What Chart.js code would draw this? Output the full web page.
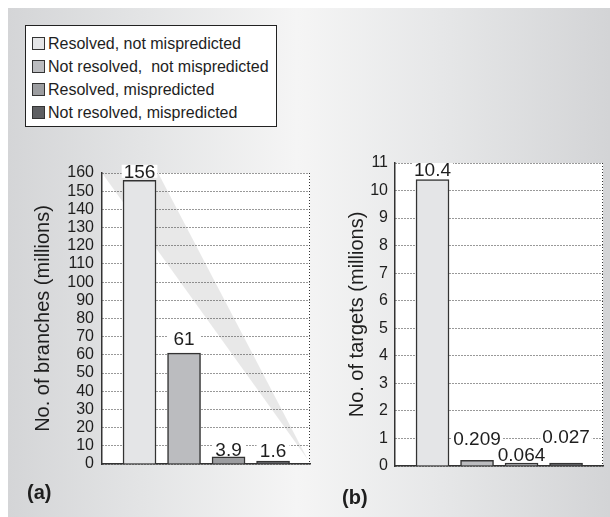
<!DOCTYPE html>
<html>
<head>
<meta charset="utf-8">
<script src="https://cdn.jsdelivr.net/npm/chart.js@4/dist/chart.umd.min.js"></script>
<style>
  html, body { margin: 0; padding: 0; background: #fff; }
  #page { position: relative; width: 610px; height: 517px; overflow: hidden;
          font-family: 'Liberation Sans', Arial, Helvetica, sans-serif; color: #1e1e1e; }
  #panel { position: absolute; left: 8px; top: 8px; width: 602px; height: 509px;
           background: linear-gradient(90deg, #d4d5d7 0%, #e3e4e5 22%, #f5f5f5 48%, #e6e7e8 72%, #d3d4d6 100%); }
  #legend { position: absolute; left: 25px; top: 25px; width: 250px; height: 100px;
            border: 1px solid #222; background: #fff; }
  .row { position: absolute; left: 6px; height: 23px; line-height: 23px; font-size: 16px; white-space: pre; }
  .sw { display: inline-block; width: 11px; height: 11px; border: 1px solid #333;
        vertical-align: -1px; margin-right: 3px; }
  canvas { position: absolute; }
  .tag { position: absolute; font-weight: bold; font-size: 20px; line-height: 24px; }
</style>
</head>
<body>
<div id="page">
  <div id="panel"></div>
  <div id="legend"></div>
  <canvas id="branches" width="330" height="360" style="left:0;top:140px"></canvas>
  <canvas id="targets" width="280" height="360" style="left:330px;top:140px"></canvas>
  <div class="tag" style="left:27px;top:480px">(a)</div>
  <div class="tag" style="left:342px;top:485px">(b)</div>
</div>
<script>
// Outcome categories (same order in both panels)
const categories = [
  'Resolved, not mispredicted',
  'Not resolved,  not mispredicted',
  'Resolved, mispredicted',
  'Not resolved, mispredicted'
];
// Panel (a): dynamic branches, millions
const branchCounts = [156, 61, 3.9, 1.6];
const branchTicks = [0, 10, 20, 30, 40, 50, 60, 70, 80, 90, 100, 110, 120, 130, 140, 150, 160];
// Panel (b): distinct branch targets, millions
const targetCounts = [10.4, 0.209, 0.064, 0.027];
const targetTicks = [0, 1, 2, 3, 4, 5, 6, 7, 8, 9, 10, 11];

const fills = ['#e4e5e7', '#bbbcbf', '#9c9da0', '#5e5f62'];
const FONT = "'Liberation Sans', Arial, Helvetica, sans-serif";
const INK = '#1e1e1e';

// Legend rows
const legend = document.getElementById('legend');
categories.forEach((name, i) => {
  const row = document.createElement('div');
  row.className = 'row';
  row.style.top = (6 + 23 * i) + 'px';
  const sw = document.createElement('span');
  sw.className = 'sw';
  sw.style.background = fills[i];
  row.appendChild(sw);
  row.appendChild(document.createTextNode(name));
  legend.appendChild(row);
});

// White plot face, optional light diagonal band, dotted right edge
const plotFace = {
  id: 'plotFace',
  beforeDraw(chart, args, o) {
    const { ctx, chartArea: a } = chart;
    const w = a.right - a.left, h = a.bottom - a.top;
    ctx.save();
    ctx.fillStyle = '#fff';
    ctx.fillRect(a.left, a.top, w, h);
    if (o.band) {
      ctx.fillStyle = o.band.color;
      ctx.beginPath();
      o.band.corners.forEach(([fx, fy], i) => {
        const x = a.left + fx * w, y = a.top + fy * h;
        if (i) ctx.lineTo(x, y); else ctx.moveTo(x, y);
      });
      ctx.closePath();
      ctx.fill();
    }
    ctx.restore();
  },
  beforeDatasetsDraw(chart) {
    const { ctx, chartArea: a } = chart;
    ctx.save();
    ctx.strokeStyle = '#333';
    ctx.lineWidth = 1;
    ctx.setLineDash([1, 2]);
    const x = Math.round(a.right) - 0.5;
    ctx.beginPath();
    ctx.moveTo(x, a.top);
    ctx.lineTo(x, a.bottom);
    ctx.stroke();
    ctx.restore();
  }
};

// Value printed above each bar on a white patch
const valueTags = {
  id: 'valueTags',
  afterDatasetsDraw(chart, args, o) {
    const { ctx } = chart;
    const meta = chart.getDatasetMeta(0);
    const vals = chart.data.datasets[0].data;
    ctx.save();
    ctx.font = o.size + 'px ' + FONT;
    ctx.textAlign = 'center';
    ctx.textBaseline = 'alphabetic';
    meta.data.forEach((bar, i) => {
      const text = String(vals[i].y);
      const cy = bar.y - o.lift[i];
      const tw = ctx.measureText(text).width;
      const bw = Math.max(tw + 4, bar.width);
      ctx.fillStyle = '#fff';
      ctx.fillRect(bar.x - bw / 2, cy - o.boxH / 2, bw, o.boxH);
      ctx.fillStyle = INK;
      ctx.fillText(text, bar.x, cy + o.size * 0.36);
    });
    ctx.restore();
  }
};

function panel(canvasId, values, ticks, title, cfg) {
  return new Chart(document.getElementById(canvasId), {
    type: 'bar',
    data: {
      datasets: [{
        data: values.map((v, i) => ({ x: i, y: v })),
        backgroundColor: fills,
        borderColor: '#333',
        borderWidth: 1.5,
        barThickness: 33,
        minBarLength: 3
      }]
    },
    options: {
      responsive: false,
      animation: false,
      devicePixelRatio: 1,
      layout: { padding: cfg.padding },
      scales: {
        x: {
          type: 'linear',
          offset: false,
          min: -0.843, max: 3.83,
          ticks: { display: false },
          grid: { display: false, drawTicks: false, offset: false },
          border: { display: true, color: '#333', width: 1.5 },
          afterFit: s => { s.height = 0; }
        },
        y: {
          min: 0, max: ticks[ticks.length - 1],
          afterBuildTicks: s => { s.ticks = ticks.map(v => ({ value: v })); },
          ticks: { autoSkip: false, padding: cfg.tickPad, color: INK, font: { family: FONT, size: 16 } },
          grid: { color: '#333', lineWidth: 1, drawTicks: false },
          border: { display: true, color: '#333', width: 1.5, dash: [1, 2] },
          title: { display: true, text: title, color: INK,
                   font: { family: FONT, size: 20 }, padding: { top: cfg.titlePad, bottom: 0 } },
          afterFit: s => { s.width = cfg.axisWidth; }
        }
      },
      plugins: {
        legend: { display: false },
        tooltip: { enabled: false },
        plotFace: { band: cfg.band },
        valueTags: { size: 19, boxH: 13, lift: cfg.lift }
      }
    },
    plugins: [plotFace, valueTags]
  });
}

panel('branches', branchCounts, branchTicks, 'No. of branches (millions)', {
  padding: { left: 0, top: 33, right: 20, bottom: 36 },
  axisWidth: 102, tickPad: 8, titlePad: 31,
  band: { color: 'rgba(0,0,0,0.09)', corners: [[0, 0], [0.27, 0], [0.99, 0.985]] },
  lift: [9, 15, 8, 11]
});

panel('targets', targetCounts, targetTicks, 'No. of targets (millions)', {
  padding: { left: 0, top: 23, right: 7, bottom: 34 },
  axisWidth: 65, tickPad: 7, titlePad: 15,
  band: null,
  lift: [10, 22, 9, 27]
});
</script>
</body>
</html>
